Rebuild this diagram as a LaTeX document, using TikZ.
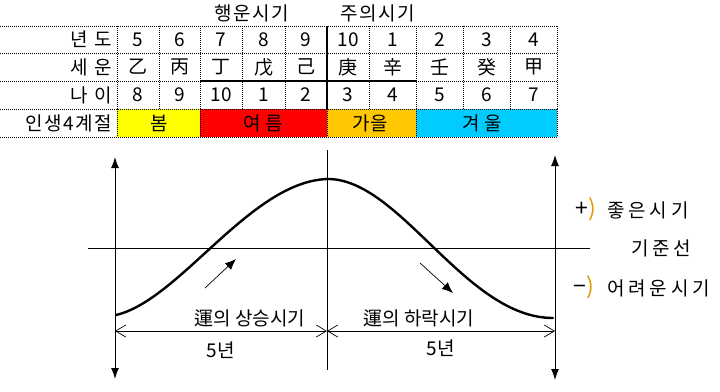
\documentclass[tikz,border=0pt]{standalone}
\usepackage{fontspec}
\setmainfont{Noto Sans CJK KR}
\newfontfamily\krsp[LetterSpace=8]{Noto Sans CJK KR}
\newfontfamily\krwide[LetterSpace=20]{Noto Sans CJK KR}
\usepackage{xcolor}
\usepackage{tikz}
\usetikzlibrary{arrows.meta}
\usetikzlibrary{positioning}

\definecolor{springc}{HTML}{FFFF00}
\definecolor{summerc}{HTML}{FF0000}
\definecolor{autumnc}{HTML}{FFC800}
\definecolor{winterc}{HTML}{00CCFF}
\definecolor{parenc}{HTML}{E09A00}

\begin{document}
\begin{tikzpicture}[x=1pt,y=-1pt,>=Latex,line width=0.8pt,font=\fontsize{19}{21}\selectfont]
	\tikzstyle{cell}=[inner sep=0pt, anchor=center]
	\tikzstyle{rowlab}=[inner sep=0pt, anchor=east, font=\fontsize{19}{21}\selectfont\krsp]
	\tikzstyle{grid}=[line width=0.7pt, dash pattern=on 1pt off 1pt]
	\tikzstyle{axis}=[line width=1pt, {Latex[length=11pt,width=8pt]}-{Latex[length=11pt,width=8pt]}]
	\tikzstyle{dim}=[line width=0.7pt, {Straight Barb[length=10pt,width=12pt]}-{Straight Barb[length=10pt,width=12pt]}]
	\tikzstyle{trend}=[line width=0.7pt, -{Latex[length=11pt,width=9pt]}]
	\tikzstyle{side}=[inner sep=0pt, anchor=west, font=\fontsize{19}{21}\selectfont\krwide]
	\tikzstyle{sign}=[inner sep=0pt, anchor=west, font=\fontsize{23}{25}\selectfont]
	\useasboundingbox (0,0) rectangle (720,391);

	% season fills
	\fill[springc] (117,109) rectangle (200,137);
	\fill[summerc] (200,109) rectangle (327,137);
	\fill[autumnc] (327,109) rectangle (416,137);
	\fill[winterc] (416,109) rectangle (557,137);

	% table grid
	\foreach \y in {26,53,81,109,137}
		\draw[grid] (0,\y) -- (557,\y);
	\foreach \x in {117,159,200,242,285,327,369,416,463,510,557}
		\draw[grid] (\x,26) -- (\x,109);
	\foreach \x in {117,200,327,416,557}
		\draw[grid] (\x,109) -- (\x,137);
	\draw[line width=1.2pt] (327,26) -- (327,109);
	\draw[line width=1.2pt] (200,81) -- (416,81);

	% headings
	\node[cell] (lucky) at (252,13) {\krsp 행운시기};
	\node[cell] (care) at (378,13) {\krsp 주의시기};

	% row labels
	\node[rowlab] (lyear) at (112,39.5) {년 도};
	\node[rowlab] (lstem) at (112,67) {세 운};
	\node[rowlab] (lage) at (112,95) {나 이};
	\node[rowlab] (lseason) at (112,123) {인생4계절};

	% rows
	\foreach \x/\t [count=\i] in {138/5,180/6,221/7,263.5/8,306/9,348/10,392.5/1,439.5/2,486.5/3,533.5/4}
		\node[cell] (yr\i) at (\x,39.5) {\t};
	\foreach \x/\t [count=\i] in {138/乙,180/丙,221/丁,263.5/戊,306/己,348/庚,392.5/辛,439.5/壬,486.5/癸,533.5/甲}
		\node[cell] (st\i) at (\x,67) {\t};
	\foreach \x/\t [count=\i] in {138/8,180/9,221/10,263.5/1,306/2,348/3,392.5/4,439.5/5,486.5/6,533.5/7}
		\node[cell] (ag\i) at (\x,95) {\t};

	\node[cell] (spring) at (159,123) {봄};
	\node[cell] (summer) at (263,123) {여 름};
	\node[cell] (autumn) at (370,123) {가을};
	\node[cell] (winter) at (482,123) {겨 울};

	% graph
	\coordinate (ltop) at (115,157);
	\coordinate (lbot) at (115,379);
	\coordinate (rtop) at (555,155);
	\coordinate (rbot) at (555,380);
	\coordinate (mtop) at (327,150);
	\coordinate (mbot) at (327,370);
	\coordinate (bl) at (88,248);
	\coordinate (br) at (590,248);
	\coordinate (dl) at (115,331);
	\coordinate (dm) at (327,331);
	\coordinate (dr) at (555,331);
	\coordinate (start) at (116,315);
	\coordinate (peak) at (327,179);
	\coordinate (finish) at (553,318);

	\draw[axis] (ltop) -- (lbot);
	\draw[axis] (rtop) -- (rbot);
	\draw (mtop) -- (mbot);
	\draw (bl) -- (br);
	\draw[line width=2.4pt, line cap=round]
		(start) .. controls (180,300) and (250,182) .. (peak)
		.. controls (400,178) and (465,318) .. (finish);
	\draw[dim] (dl) -- (dm);
	\draw[dim] (dm) -- (dr);

	\coordinate (ua1) at (205,288);
	\coordinate (ua2) at (236,259);
	\coordinate (da1) at (420,263);
	\coordinate (da2) at (453,293);
	\draw[trend] (ua1) -- (ua2);
	\draw[trend] (da1) -- (da2);

	\node[cell] (rise) at (250,318) {運의 상승시기};
	\node[cell] (fall) at (419,318) {運의 하락시기};
	\node[cell] (five1) at (221,350) {5년};
	\node[cell] (five2) at (441,348) {5년};

	\node[sign] (plus) at (575,209) {+\textcolor{parenc}{)}};
	\node[side] (good) at (607,210) {좋은시기};
	\node[side] (base) at (631,248) {기준선};
	\node[sign] (minus) at (573,287) {−\textcolor{parenc}{)}};
	\node[side] (hard) at (607,288) {어려운시기};
\end{tikzpicture}
\end{document}
